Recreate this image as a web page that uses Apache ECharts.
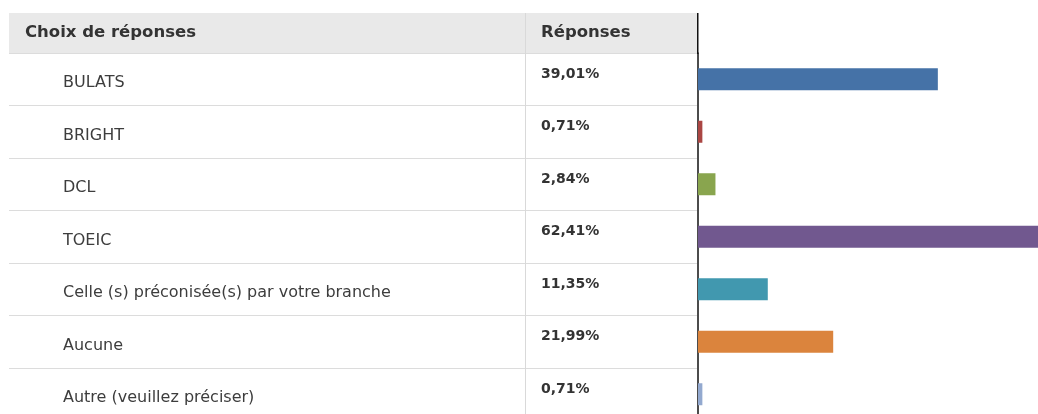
<!DOCTYPE html>
<html><head><meta charset="utf-8">
<script src="https://cdn.jsdelivr.net/npm/echarts@6/dist/echarts.min.js"></script>
<style>html,body{margin:0;padding:0;background:#fff}#c{width:1038px;height:414px}</style>
</head><body><div id="c"></div>
<script>
const categories = ['BULATS', 'BRIGHT', 'DCL', 'TOEIC', 'Celle (s) préconisée(s) par votre branche', 'Aucune', 'Autre (veuillez préciser)'];
const values = [39.01, 0.71, 2.84, 62.41, 11.35, 21.99, 0.71];
const percentLabels = ['39,01%', '0,71%', '2,84%', '62,41%', '11,35%', '21,99%', '0,71%'];
const colors = ['#4572A7', '#AA4643', '#89A54E', '#71588F', '#4198AF', '#DB843D', '#93A9CF'];
const headers = ['Choix de réponses', 'Réponses'];

const chart = echarts.init(document.getElementById('c'));
const FONT = 'DejaVu Sans';
chart.setOption({
  animation: false,
  grid: [
    { left: 9, top: 53, width: 688, height: 367.5, outerBoundsMode: 'none', containLabel: false },
    { left: 698, top: 53, width: 340, height: 367.5, outerBoundsMode: 'none', containLabel: false }
  ],
  xAxis: [
    { gridIndex: 0, type: 'value', show: false, min: 0, max: 1 },
    { gridIndex: 1, type: 'value', show: false, min: 0, max: 55.3 }
  ],
  yAxis: [
    { gridIndex: 0, type: 'category', inverse: true, data: categories,
      axisLine: { show: false }, axisTick: { show: false }, axisLabel: { show: false },
      splitLine: { show: true, lineStyle: { color: '#dcdcdc', width: 1 } } },
    { gridIndex: 1, type: 'category', inverse: true, data: categories, position: 'left',
      axisLine: { show: true, lineStyle: { color: '#111', width: 1.5 } },
      axisTick: { show: false }, splitLine: { show: false },
      axisLabel: { margin: 635, align: 'left', verticalAlign: 'top', lineHeight: 8,
        color: '#3d3d3d', fontFamily: FONT, fontSize: 16 } },
    { gridIndex: 1, type: 'category', inverse: true, data: percentLabels, position: 'left', offset: 0,
      axisLine: { show: false }, axisTick: { show: false }, splitLine: { show: false },
      axisLabel: { margin: 157, align: 'left', verticalAlign: 'bottom', lineHeight: 10,
        color: '#333', fontFamily: FONT, fontWeight: 'bold', fontSize: 14 } }
  ],
  series: [{
    type: 'bar', xAxisIndex: 1, yAxisIndex: 1, barWidth: 22, clip: true,
    data: values.map((v, i) => ({ value: v, itemStyle: { color: colors[i] } }))
  }],
  graphic: [
    { type: 'rect', z: -10, shape: { x: 9, y: 13, width: 688, height: 40 }, style: { fill: '#e9e9e9' } },
    { type: 'line', z: 5, shape: { x1: 525.5, y1: 13, x2: 525.5, y2: 414 }, style: { stroke: '#d9d9d9', lineWidth: 1 } },
    { type: 'line', z: 5, shape: { x1: 697.75, y1: 13, x2: 697.75, y2: 54 }, style: { stroke: '#111', lineWidth: 1.5 } },
    { type: 'text', x: 25, y: 33, style: { text: headers[0], fill: '#333', font: 'bold 16.5px "DejaVu Sans"', verticalAlign: 'middle' } },
    { type: 'text', x: 541, y: 33, style: { text: headers[1], fill: '#333', font: 'bold 16.5px "DejaVu Sans"', verticalAlign: 'middle' } }
  ]
});
</script></body></html>
